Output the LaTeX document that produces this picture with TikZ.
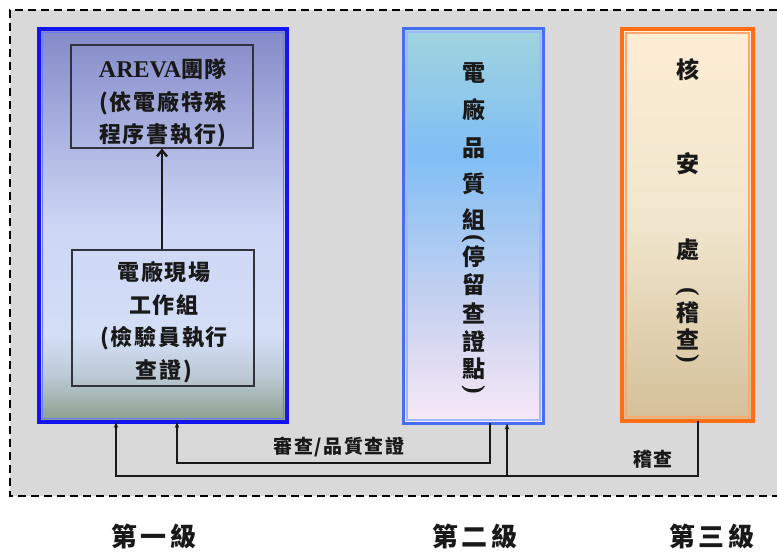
\documentclass[tikz,border=0pt]{standalone}
\usepackage{fontspec}
\usepackage{graphicx}
\setmainfont{Noto Sans CJK TC}
\newfontfamily\lat{Liberation Serif}
\usetikzlibrary{arrows.meta}
\definecolor{bg}{RGB}{217,217,217}
\definecolor{ink}{RGB}{25,25,25}
\definecolor{lbB}{RGB}{138,158,138}
\definecolor{lbC}{RGB}{188,203,214}
\definecolor{lbD}{RGB}{212,222,246}
\definecolor{lbE}{RGB}{205,214,245}
\definecolor{lbT}{RGB}{132,137,200}
\definecolor{mB}{RGB}{248,232,246}
\definecolor{mM2}{RGB}{200,210,240}
\definecolor{mM}{RGB}{128,190,245}
\definecolor{mT}{RGB}{160,212,222}
\definecolor{rB}{RGB}{212,192,152}
\definecolor{rM}{RGB}{240,229,205}
\definecolor{rT}{RGB}{253,237,212}
\definecolor{lblue}{RGB}{20,20,240}
\definecolor{lbline}{RGB}{110,120,250}
\definecolor{mblue}{RGB}{70,110,245}
\definecolor{mbline}{RGB}{160,185,250}
\definecolor{orng}{RGB}{255,110,20}
\definecolor{orline}{RGB}{250,170,110}
\definecolor{boxline}{RGB}{50,50,60}
\pgfdeclareverticalshading{leftsh}{100bp}{color(0bp)=(lbB); color(25bp)=(lbB); color(31bp)=(lbC); color(36bp)=(lbD); color(50bp)=(lbE); color(75bp)=(lbT); color(100bp)=(lbT)}
\pgfdeclareverticalshading{midsh}{100bp}{color(0bp)=(mB); color(25bp)=(mB); color(40bp)=(mM2); color(59bp)=(mM); color(75bp)=(mT); color(100bp)=(mT)}
\pgfdeclareverticalshading{rightsh}{100bp}{color(0bp)=(rB); color(25bp)=(rB); color(50bp)=(rM); color(75bp)=(rT); color(100bp)=(rT)}
\begin{document}
\begin{tikzpicture}[x=1pt,y=-1pt,
  bigbox/.style={inner sep=0pt, outer sep=0pt},
  innerbox/.style={draw=boxline, line width=1.2pt, inner sep=0pt},
  boxtext/.style={inner sep=0pt, align=center, text=ink,
    font=\fontsize{22}{32.5}\selectfont\bfseries\addfontfeature{LetterSpace=8}},
  vch/.style={inner sep=0pt, text=ink, font=\fontsize{23}{23}\selectfont\bfseries},
  vpar/.style={inner sep=0pt, text=ink, font=\lat\fontsize{26}{26}\selectfont\bfseries},
  lbl/.style={inner sep=0pt, text=ink, font=\fontsize{19}{19}\selectfont\bfseries\addfontfeature{LetterSpace=8}},
  lvl/.style={inner sep=0pt, text=ink, font=\fontsize{26}{26}\selectfont\bfseries\addfontfeature{LetterSpace=12}},
  conn/.style={draw=ink, line width=1.4pt},
  arr/.style={conn, -{Stealth[length=6pt,width=4.5pt]}}]
\path[use as bounding box, fill=white] (0,0) rectangle (777,553);
\fill[bg] (10,10) rectangle (777,496);
\draw[line width=1.5pt, dash pattern=on 8pt off 5pt] (777,10) -- (10,10) -- (10,496) -- (777,496);
% level boxes
\node[bigbox, shading=leftsh, draw=lblue, line width=4pt, minimum width=248pt, minimum height=393pt] (L) at (163,225.5) {};
\draw[lbline, line width=1.5pt] ([shift={(3.5,3.5)}]L.north west) rectangle ([shift={(-3.5,-3.5)}]L.south east);
\node[bigbox, shading=midsh, draw=mblue, line width=3.5pt, minimum width=140pt, minimum height=395pt] (M) at (473.5,226) {};
\draw[mbline, line width=1.5pt] ([shift={(3.5,3.5)}]M.north west) rectangle ([shift={(-3.5,-3.5)}]M.south east);
\node[bigbox, shading=rightsh, draw=orng, line width=4pt, minimum width=131pt, minimum height=392pt] (R) at (687.5,225) {};
\draw[orline, line width=2pt] ([shift={(4,4)}]R.north west) rectangle ([shift={(-4,-4)}]R.south east);
% inner boxes of level 1
\node[innerbox, minimum width=182pt, minimum height=103pt] (A) at (162,96.5) {};
\node[boxtext] (At) at (163,103)
  {{\lat\fontsize{24}{32}\selectfont\bfseries AREVA}團隊\\(依電廠特殊\\程序書執行)};
\node[innerbox, minimum width=182pt, minimum height=136pt] (B) at (163,318) {};
\node[boxtext] (Bt) at (164,322)
  {電廠現場\\工作組\\(檢驗員執行\\查證)};
\draw[draw=ink, line width=2.4pt, -{Straight Barb[length=6pt,width=10pt]}] (B.north -| A.south) -- (A.south);
% vertical texts
\foreach \yy/\ch [count=\k] in {73/電,110/廠,148/品,184/質,220/組,257/停,285/留,313/查,341/證,369/點}
  \node[vch] (m\k) at (474,\yy) {\ch};
\node[vpar] (mp1) at (474,239) {\rotatebox{-90}{(}};
\node[vpar] (mp2) at (474,390) {\rotatebox{-90}{)}};
\foreach \yy/\ch [count=\k] in {70/核,164/安,250/處,313/稽,339/查}
  \node[vch] (r\k) at (688,\yy) {\ch};
\node[vpar] (rp1) at (688,292) {\rotatebox{-90}{(}};
\node[vpar] (rp2) at (688,359) {\rotatebox{-90}{)}};
% connectors
\coordinate (xa) at (490,0);
\coordinate (xb) at (177,0);
\coordinate (xc) at (698,0);
\coordinate (xd) at (116,0);
\coordinate (xe) at (507,0);
\coordinate (hA) at (0,463);
\coordinate (hB) at (0,476);
\draw[arr] (M.south -| xa) -- (xa |- hA) -| (L.south -| xb);
\draw[arr] (R.south -| xc) -- (xc |- hB) -| (L.south -| xd);
\coordinate (jc) at (xe |- hB);
\draw[arr] (jc) -- (M.south -| xe);
\node[lbl] (t1) at (339,447) {審查/品質查證};
\node[lbl] (t2) at (653,459) {稽查};
% level labels
\node[lvl] (g1) at (154,537) {第一級};
\node[lvl] (g2) at (475,537) {第二級};
\node[lvl] (g3) at (712,537) {第三級};
\end{tikzpicture}
\end{document}
